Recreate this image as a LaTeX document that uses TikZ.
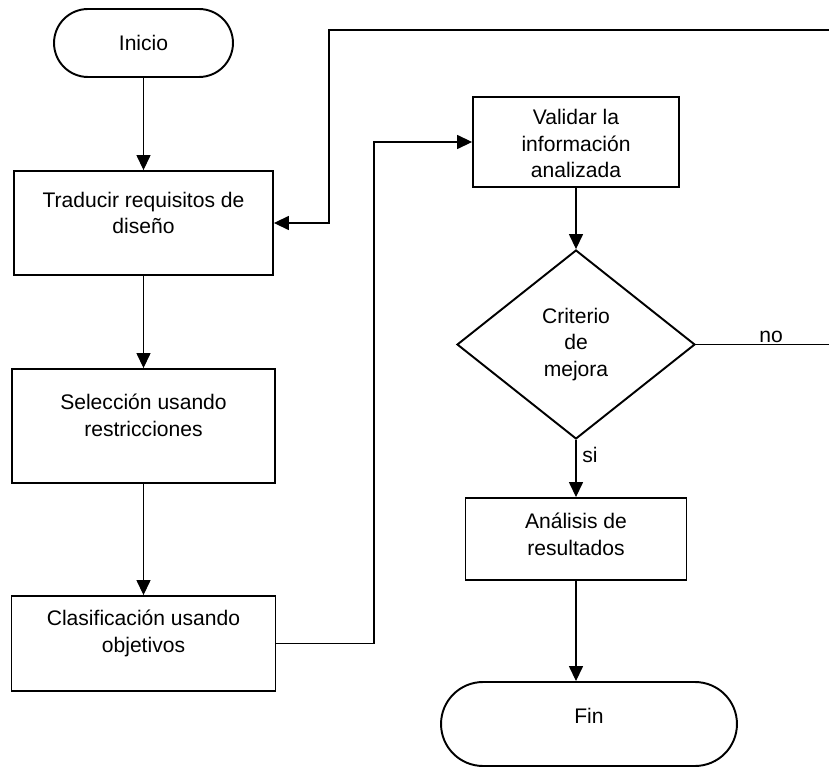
\documentclass[tikz,border=0pt]{standalone}
\usepackage{fontspec}
\setmainfont{Liberation Sans}
\usetikzlibrary{arrows.meta,shapes.geometric,shapes.misc}

\tikzset{
  process/.style={draw, rectangle, line width=1.1pt, inner sep=0pt},
  terminal/.style={draw, rounded rectangle, line width=1.1pt, inner sep=0pt},
  decision/.style={draw, diamond, line width=1.1pt, inner sep=0pt, align=center},
  txt/.style={align=center, inner sep=0pt},
  arr/.style={-{Triangle[width=8pt,length=8.5pt]}, line width=0.6pt},
}

\begin{document}
\begin{tikzpicture}[x=0.02cm, y=-0.02cm, font=\fontsize{12}{15.3}\selectfont]
 \useasboundingbox (0,0) rectangle (829,767);

  \draw (143.5,43) node[terminal, minimum width=3.58cm, minimum height=1.36cm] (inicio) {Inicio};
  \draw (143.5,223) node[process, minimum width=5.18cm, minimum height=2.08cm] (traducir) {};
  \draw (143.5,213) node[txt] (traducirtxt) {Traducir requisitos de\\dise\~no};
  \draw (143.5,426) node[process, minimum width=5.26cm, minimum height=2.28cm] (seleccion) {};
  \draw (143.5,415) node[txt] (selecciontxt) {Selecci\'on usando\\restricciones};
  \draw (143.5,643.5) node[process, minimum width=5.28cm, minimum height=1.9cm] (clasificacion) {};
  \draw (143.5,633) node[txt] (clasificaciontxt) {Clasificaci\'on usando\\objetivos};

    \draw (576,142) node[process, minimum width=4.12cm, minimum height=1.8cm] (validar) {};
    \draw (576,143.5) node[txt] (validartxt) {Validar la\\informaci\'on\\analizada};
    \draw (576,344.5) node[decision, minimum width=4.76cm, minimum height=3.78cm] (criterio) {Criterio\\de\\mejora};
    \draw (576,539) node[process, minimum width=4.42cm, minimum height=1.64cm] (analisis) {};
    \draw (576,534.5) node[txt] (analisistxt) {An\'alisis de\\resultados};
    \draw (589,724) node[terminal, minimum width=5.92cm, minimum height=1.68cm] (fin) {};
    \draw (589,716) node[txt] (fintxt) {Fin};

  \coordinate (rtop) at (830,30);
  \coordinate (ltop) at (329,30);
  \coordinate (codo) at (374,400);

     \draw[arr] (inicio.south) -- (inicio.south |- traducir.north);
     \draw[arr] (traducir.south) -- (traducir.south |- seleccion.north);
     \draw[arr] (seleccion.south) -- (seleccion.south |- clasificacion.north);
     \draw[arr] (clasificacion.east) -| (codo) |- (validar.west);
     \draw[arr] (validar.south) -- (criterio.north);
     \draw[arr] (criterio.south) -- node[pos=.27, right] (si) {si} (analisis.north);
     \draw[arr] (analisis.south) -- (analisis.south |- fin.north);
     \draw[arr] (criterio.east) -- node[pos=.56, above, inner sep=1pt] (no) {no} (criterio.east -| rtop)
       -- (rtop) -- (ltop) |- (traducir.east);

\end{tikzpicture}
\end{document}
